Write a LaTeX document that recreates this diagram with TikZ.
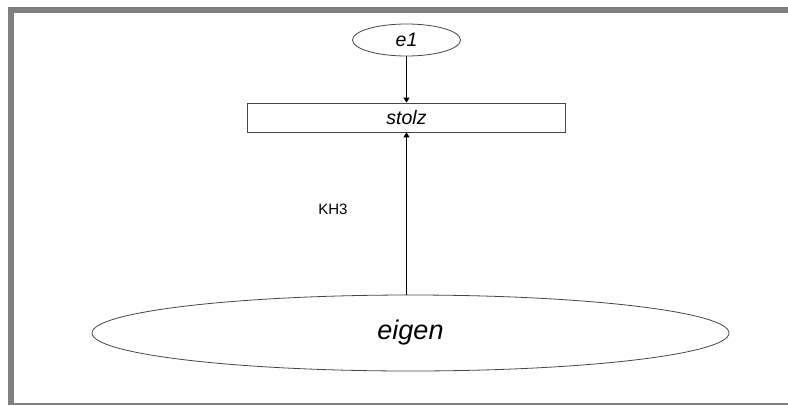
\documentclass[tikz,border=0pt]{standalone}
\usepackage{fontspec}
\setmainfont{Liberation Sans}
\usetikzlibrary{shapes.geometric,arrows.meta}
\definecolor{framegray}{RGB}{128,128,128}
\definecolor{edgegray}{RGB}{70,70,70}
\tikzset{
  conn/.style={draw=black, line width=1.1pt, -{Triangle[length=5pt,width=6pt]}},
  ovalnode/.style={ellipse, draw=edgegray, line width=0.8pt, inner sep=0pt, font=\itshape},
  boxnode/.style={rectangle, draw=edgegray, line width=0.8pt, inner sep=0pt, font=\itshape},
  lbl/.style={inner sep=0pt, font=\fontsize{15}{18}\selectfont}
}
\begin{document}
\begin{tikzpicture}[x=1pt,y=-1pt]
  \useasboundingbox (0,0) rectangle (788,405);
  % page frame
  \fill[framegray] (8,7) rectangle (788,13);
  \fill[framegray] (8,7) rectangle (14,405);
  \fill[framegray] (8,403) rectangle (788,405);
  % nodes
  \node[ovalnode, minimum width=108pt, minimum height=32pt,
        font=\itshape\fontsize{19.5}{23}\selectfont] (e1) at (406.5,40) {e1};
  \node[boxnode, minimum width=318pt, minimum height=29pt,
        font=\itshape\fontsize{19.5}{23}\selectfont] (stolz) at (406.5,117.5) {stolz};
  \node[ovalnode, minimum width=637pt, minimum height=76pt,
        font=\itshape\fontsize{27}{32}\selectfont] (eigen) at (410.5,333) {eigen};
  % connectors
  \draw[conn] (e1.south) -- (stolz.north);
  \draw[conn] (stolz.south |- eigen.north) -- (stolz.south);
  \node[lbl] (kh3) at (333,209) {KH3};
\end{tikzpicture}
\end{document}
